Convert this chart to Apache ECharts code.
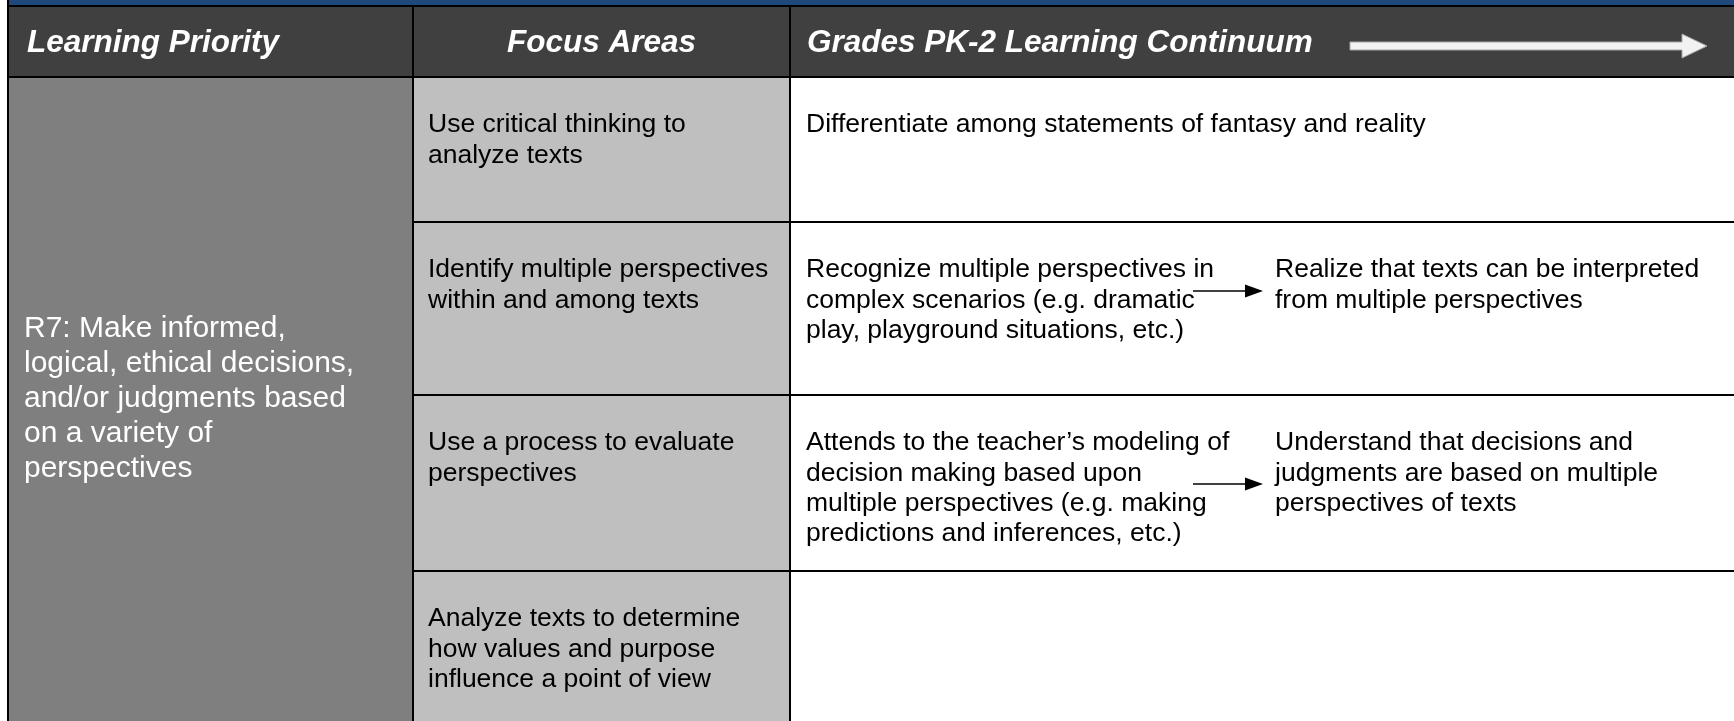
<!DOCTYPE html>
<html>
<head>
<meta charset="utf-8">
<script src="https://cdn.jsdelivr.net/npm/echarts@6/dist/echarts.min.js"></script>
<style>html,body{margin:0;padding:0;background:#fff}#c{width:1734px;height:721px}</style>
</head>
<body>
<div id="c"></div>
<script>
// ---- DATA (text content of the table) ----
const headers = ['Learning Priority', 'Focus Areas', 'Grades PK-2 Learning Continuum'];
const learningPriority = 'R7: Make informed,\nlogical, ethical decisions,\nand/or judgments based\non a variety of\nperspectives';
const focusAreas = [
  'Use critical thinking to\nanalyze texts',
  'Identify multiple perspectives\nwithin and among texts',
  'Use a process to evaluate\nperspectives',
  'Analyze texts to determine\nhow values and purpose\ninfluence a point of view'
];
const continuumStart = [
  'Differentiate among statements of fantasy and reality',
  'Recognize multiple perspectives in\ncomplex scenarios (e.g. dramatic\nplay, playground situations, etc.)',
  'Attends to the teacher\u2019s modeling of\ndecision making based upon\nmultiple perspectives (e.g. making\npredictions and inferences, etc.)',
  ''
];
const continuumNext = [
  '',
  'Realize that texts can be interpreted\nfrom multiple perspectives',
  'Understand that decisions and\njudgments are based on multiple\nperspectives of texts',
  ''
];

// ---- LAYOUT / STYLE (not data) ----
const W = 1734, H = 721;
const COLS = [8, 413, 790, 1734];
const ROWS = [6, 77, 222, 395, 571, 721];
const ARROW_DY = [0, 69, 89, 0];
const FONT = '"Liberation Sans", Arial, Helvetica, sans-serif';
const FILL = { band: '#1f497d', head: '#404040', priority: '#7f7f7f', focus: '#bfbfbf', cont: '#ffffff' };

const cells = [];
cells.push({ kind: 'band', x0: COLS[0], x1: COLS[3], y0: 0, y1: ROWS[0] });
headers.forEach((h, i) => cells.push({ kind: 'head', col: i, x0: COLS[i], x1: COLS[i + 1], y0: ROWS[0], y1: ROWS[1], text: h }));
cells.push({ kind: 'priority', x0: COLS[0], x1: COLS[1], y0: ROWS[1], y1: ROWS[5], text: learningPriority });
focusAreas.forEach((f, r) => cells.push({ kind: 'focus', x0: COLS[1], x1: COLS[2], y0: ROWS[r + 1], y1: ROWS[r + 2], text: f }));
continuumStart.forEach((t, r) => cells.push({ kind: 'cont', row: r, x0: COLS[2], x1: COLS[3], y0: ROWS[r + 1], y1: ROWS[r + 2], text: t, next: continuumNext[r] }));

const segs = [
  [COLS[0], ROWS[0], COLS[3], ROWS[0]],
  [COLS[0], ROWS[1], COLS[3], ROWS[1]],
  [COLS[1], ROWS[2], COLS[3], ROWS[2]],
  [COLS[1], ROWS[3], COLS[3], ROWS[3]],
  [COLS[1], ROWS[4], COLS[3], ROWS[4]],
  [COLS[0], 0, COLS[0], H],
  [COLS[1], ROWS[0], COLS[1], H],
  [COLS[2], ROWS[0], COLS[2], H]
];

function txt(text, x, y, o) {
  return { type: 'text', style: Object.assign({ text, x, y, fontFamily: FONT, fill: '#000', align: 'left', verticalAlign: 'top' }, o) };
}

function renderCell(params, api) {
  const c = cells[params.dataIndex];
  const a = api.coord([c.x0, c.y0]), b = api.coord([c.x1, c.y1]);
  const x = a[0], y = a[1], w = b[0] - a[0], h = b[1] - a[1];
  const ch = [{ type: 'rect', shape: { x, y, width: w, height: h }, style: { fill: FILL[c.kind] } }];
  if (c.kind === 'head') {
    const hs = { fill: '#fff', fontSize: 31.5, fontWeight: 'bold', fontStyle: 'italic', verticalAlign: 'middle' };
    if (c.col === 1) ch.push(txt(c.text, x + w / 2, y + h / 2 + 1.5, Object.assign(hs, { align: 'center' })));
    else ch.push(txt(c.text, x + (c.col === 0 ? 19 : 17), y + h / 2 + 1.5, hs));
    if (c.col === 2) {
      const cy = y + h / 2 + 4.5;
      const sx = x + 560, hx = x + 892, tx = x + 917;
      ch.push({ type: 'polygon', shape: { points: [[sx, cy - 4], [hx, cy - 4], [hx, cy - 12], [tx, cy], [hx, cy + 12], [hx, cy + 4], [sx, cy + 4]] },
        style: { fill: '#f2f2f2', stroke: '#a6a6a6', lineWidth: 1 } });
    }
  } else if (c.kind === 'priority') {
    ch.push(txt(c.text, x + 16, y + h / 2, { fill: '#fff', fontSize: 30, lineHeight: 35, verticalAlign: 'middle' }));
  } else if (c.kind === 'focus') {
    ch.push(txt(c.text, x + 15, y + 33, { fontSize: 26.5, lineHeight: 30.3 }));
  } else if (c.kind === 'cont') {
    if (c.text) ch.push(txt(c.text, x + 16, y + 33, { fontSize: 26.5, lineHeight: 30.3 }));
    if (c.next) {
      ch.push(txt(c.next, x + 485, y + 33, { fontSize: 26.5, lineHeight: 30.3 }));
      const ay = y + ARROW_DY[c.row];
      ch.push({ type: 'line', shape: { x1: x + 403, y1: ay, x2: x + 458, y2: ay }, style: { stroke: '#000', lineWidth: 1.5 } });
      ch.push({ type: 'polygon', shape: { points: [[x + 455, ay - 6.5], [x + 473, ay], [x + 455, ay + 6.5]] }, style: { fill: '#000' } });
    }
  }
  return { type: 'group', children: ch };
}

function renderSeg(params, api) {
  const s = segs[params.dataIndex];
  const a = api.coord([s[0], s[1]]), b = api.coord([s[2], s[3]]);
  return { type: 'line', shape: { x1: a[0], y1: a[1], x2: b[0], y2: b[1] }, style: { stroke: '#000', lineWidth: 2 } };
}

const chart = echarts.init(document.getElementById('c'), null, { renderer: 'canvas' });
chart.setOption({
  animation: false,
  backgroundColor: '#fff',
  grid: { left: 0, right: 0, top: 0, bottom: 0 },
  xAxis: { type: 'value', min: 0, max: W, show: false },
  yAxis: { type: 'value', min: 0, max: H, inverse: true, show: false },
  series: [
    { type: 'custom', renderItem: renderCell, clip: true, z: 1,
      data: cells.map(c => [c.x0, c.y0, c.x1, c.y1]), encode: { x: [0, 2], y: [1, 3] } },
    { type: 'custom', renderItem: renderSeg, clip: true, z: 2,
      data: segs, encode: { x: [0, 2], y: [1, 3] } }
  ]
});
</script>
</body>
</html>
